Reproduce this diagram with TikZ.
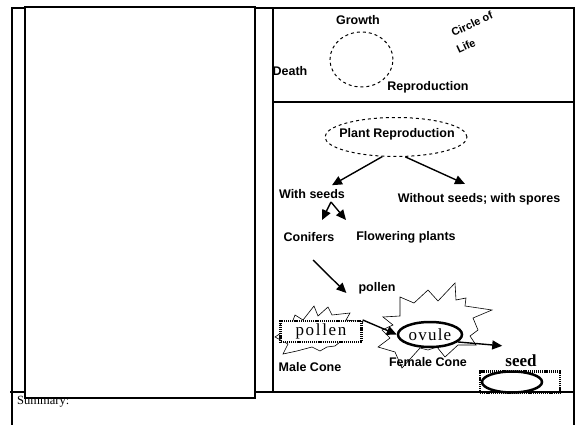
\documentclass[tikz,border=0pt]{standalone}
\usepackage{fontspec}
\setmainfont{Liberation Serif}
\setsansfont{Liberation Sans}
\usetikzlibrary{arrows.meta,shapes.geometric}

\tikzset{
  lbl/.style={font=\sffamily\bfseries\fontsize{12.5}{15}\selectfont, inner sep=0pt},
  big/.style={font=\fontsize{17}{19}\selectfont\addfontfeature{LetterSpace=7}},
  frame/.style={line width=1.5pt},
  arr/.style={line width=1.4pt, -{Triangle[length=10pt,width=9pt]}},
  dotbox/.style={draw, line width=2.2pt, dash pattern=on 1.2pt off 0.9pt, inner sep=0pt, fill=white},
  cone/.style={line width=0.6pt, line join=miter},
  ring/.style={draw, ellipse, line width=2.5pt, inner sep=0pt, fill=white},
}

\begin{document}
\begin{tikzpicture}[x=1pt,y=-1pt]
\useasboundingbox (0,0) rectangle (579,425);
\draw[frame] (12,425) -- (12,8) -- (574,8) -- (574,425);
\draw[frame] (10,392) -- (574,392);
\draw[frame] (273,8) -- (273,392);
\draw[frame] (273,102) -- (574,102);
\draw[frame, fill=white] (25,7) rectangle (255,398);

\node[draw, dashed, ellipse, line width=1pt, minimum width=63pt, minimum height=55pt] (life) at (361.5,59.5) {};
\node[lbl] (growth) at (358,20) {Growth};
\node[lbl] (death) at (290,71) {Death};
\node[lbl] (repro) at (428,87) {Reproduction};
\node[lbl, font=\sffamily\bfseries\fontsize{11}{13}\selectfont, rotate=25] (circ) at (472,24) {Circle of};
\node[lbl, font=\sffamily\bfseries\fontsize{11}{13}\selectfont, rotate=25] (circlife) at (466,46) {Life};

\node[draw, dashed, ellipse, line width=1pt, minimum width=142pt, minimum height=39pt] (plant) at (396,137) {};
\node[lbl] (plantlbl) at (397,134) {Plant Reproduction};
\node[lbl] (withseeds) at (312,194) {With seeds};
\node[lbl] (without) at (479,199) {Without seeds; with spores};
\node[lbl] (conifers) at (309,237) {Conifers};
\node[lbl] (flowering) at (406,237) {Flowering plants};
\draw[arr] (plant.-125) -- ([xshift=20pt,yshift=4pt]withseeds.north);
\draw[arr] (plant.-65) -- ([xshift=-14pt,yshift=9pt]without.north);
\coordinate (fork) at (331,202);
\coordinate (forkl) at (322,220);
\coordinate (forkr) at (346,220);
\draw[arr] (fork) -- (forkl);
\draw[arr] (fork) -- (forkr);

\node[lbl] (pollenlbl) at (377,288) {pollen};
\coordinate (drop) at (313,260);
\draw[arr] (drop) -- ([xshift=-12pt,yshift=-5pt]pollenlbl.west);

\draw[cone] (295,315) -- (303,320) -- (314,306) -- (318,316) -- (328,307) -- (332,315) -- (350,313) -- (346,320) -- (363,322) -- (356,330) -- (358,340) -- (340,342) -- (335,346) -- (327,347) -- (320,351) -- (312,347) -- (297,351) -- (283,354) -- (288,344) -- (275,337) -- (284,331) -- (280,324) -- (292,323) -- cycle;
\draw[cone] (383,317) -- (400,316) -- (400,297) -- (414,303) -- (428,290) -- (438,301) -- (455,283) -- (456,300) -- (466,298) -- (465,306) -- (492,310) -- (473,318) -- (478,330) -- (470,336) -- (476,345) -- (458,345) -- (445,357) -- (437,347) -- (428,350) -- (420,348) -- (402,368) -- (395,352) -- (378,347) -- (390,338) -- (382,330) -- (393,325) -- cycle;

\node[dotbox, minimum width=81pt, minimum height=21pt, big, font=\fontsize{17}{19}\selectfont\addfontfeature{LetterSpace=10}] (pollenbox) at (321,331.5) {pollen};
\node[lbl] (male) at (310,367) {Male Cone};
\node[ring, minimum width=64pt, minimum height=25pt, big] (ovule) at (430,334.5) {ovule};
\node[lbl] (female) at (428,362) {Female Cone};
\node[big, font=\bfseries\fontsize{17}{19}\selectfont, inner sep=0pt] (seedlbl) at (521,361) {seed};
\node[dotbox, minimum width=80pt, minimum height=21pt] (seedbox) at (520,382) {};
\node[ring, minimum width=60pt, minimum height=21pt] (seed) at (512,382) {};
\draw[arr] (pollenbox.north east) -- (ovule.west);
\draw[arr] (ovule.-15) -- ([xshift=-3pt,yshift=9pt]seedlbl.north west);
\draw[frame] (480,392) -- (574,392);

\node[font=\fontsize{12.5}{14}\selectfont, inner sep=0pt, anchor=west] (summary) at (17,402) {Summary:};
\end{tikzpicture}
\end{document}
